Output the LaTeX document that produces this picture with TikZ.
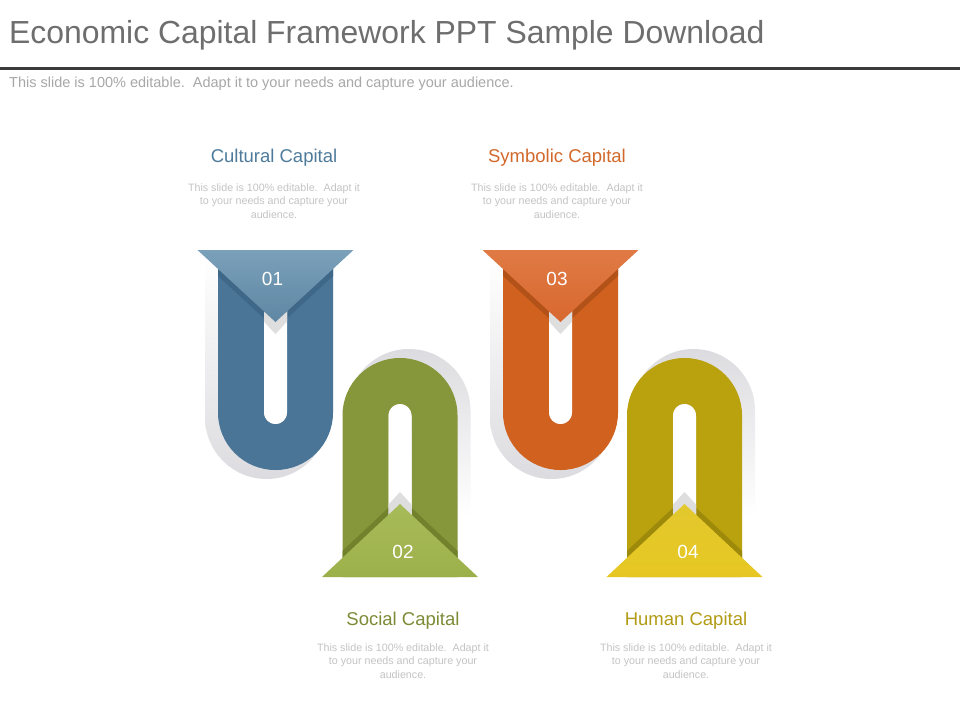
\documentclass[tikz,border=0pt]{standalone}
\usepackage{fontspec}
\setmainfont{Liberation Sans}
\definecolor{titlegray}{HTML}{6E6E6E}
\definecolor{subgray}{HTML}{A8A8A8}
\definecolor{bodygray}{HTML}{C4C4C4}
\definecolor{rulegray}{HTML}{3C3C3C}
\definecolor{shadowgray}{HTML}{DCDCE0}
\definecolor{blueband}{HTML}{4A7596}
\definecolor{bluedark}{HTML}{3F6888}
\definecolor{bluetop}{HTML}{7AA0BA}
\definecolor{bluemid}{HTML}{86A8C0}
\definecolor{bluebot}{HTML}{5F87A3}
\definecolor{bluetext}{HTML}{4F7B9B}
\definecolor{greenband}{HTML}{86963A}
\definecolor{greendark}{HTML}{72822C}
\definecolor{greentop}{HTML}{A8BB5A}
\definecolor{greenmid}{HTML}{B5C46C}
\definecolor{greenbot}{HTML}{9CB04A}
\definecolor{greentext}{HTML}{7C8B36}
\definecolor{orangeband}{HTML}{D0611F}
\definecolor{orangedark}{HTML}{B25218}
\definecolor{orangetop}{HTML}{E07A45}
\definecolor{orangemid}{HTML}{EC9566}
\definecolor{orangebot}{HTML}{D8682F}
\definecolor{orangetext}{HTML}{D2692C}
\definecolor{yellowband}{HTML}{BAA20F}
\definecolor{yellowdark}{HTML}{9E8A0A}
\definecolor{yellowtop}{HTML}{E3C82E}
\definecolor{yellowmid}{HTML}{EEDB50}
\definecolor{yellowbot}{HTML}{E6C722}
\definecolor{yellowtext}{HTML}{B29B14}
\tikzset{
  ribbon/.style={line width=46pt},
  ushadow/.style={top color=white,bottom color=shadowgray},
  nshadow/.style={top color=shadowgray,bottom color=white},
  numtext/.style={text=white,inner sep=0,font=\fontsize{19}{19}\selectfont},
  headtext/.style={inner sep=0,font=\fontsize{18.5}{21}\selectfont},
  bodytext/.style={text=bodygray,align=center,inner sep=0,font=\fontsize{10.7}{13.5}\selectfont}
}

\begin{document}
\begin{tikzpicture}[x=1pt,y=-1pt]
	\fill[white] (0,0) rectangle (960,720);
	\useasboundingbox (0,0) rectangle (960,720);
	% title and rule
	\node[anchor=west,inner sep=0,text=titlegray,font=\fontsize{31.9}{36}\selectfont] (title) at (9,35) {Economic Capital Framework PPT Sample Download};
	\draw[rulegray,line width=3pt] (0,68) -- (960,68);
	\node[anchor=west,inner sep=0,text=subgray,font=\fontsize{14.5}{16}\selectfont] (subtitle) at (9,84) {This slide is 100\% editable.\ \ Adapt it to your needs and capture your audience.};

	% 01 blue
	\begin{scope}[shift={(275.5,412.5)}]
		\shade[ushadow] (-70.5,-155) -- (-70.5,5) arc (180:0:61.5) -- (52.5,-155) -- cycle;
		\draw[ribbon,blueband] (-34.5,-161) -- (-34.5,0) arc (180:0:34.5) -- (34.5,-161);
		\begin{scope}
			\clip (-57.5,-162.5) rectangle (57.5,0);
			\fill[bluedark] (-78,-162.5) -- (-78,-155.5) -- (0,-83.5) -- (78,-155.5) -- (78,-162.5) -- cycle;
		\end{scope}
		\fill[white] (-11.5,-162.5) -- (-11.5,0) arc (180:0:11.5) -- (11.5,-162.5) -- cycle;
		\begin{scope}
			\clip (-11.5,-162.5) -- (-11.5,0) arc (180:0:11.5) -- (11.5,-162.5) -- cycle;
			\fill[black!13] (-78,-162.5) -- (0,-78.5) -- (78,-162.5) -- cycle;
		\end{scope}
		\shade[top color=bluetop,middle color=bluemid,bottom color=bluebot] (-78,-162.5) -- (78,-162.5) -- (0,-90.5) -- cycle;
		\node[numtext] (num01) at (-3,-133.5) {01};
	\end{scope}

	% 02 green
	\begin{scope}[shift={(400,415.5)}]
		\shade[nshadow] (-52.5,100) -- (-52.5,-5) arc (180:360:61.5) -- (70.5,100) -- cycle;
		\draw[ribbon,greenband] (-34.5,161) -- (-34.5,0) arc (180:360:34.5) -- (34.5,161);
		\begin{scope}
			\clip (-57.5,0) rectangle (57.5,161.5);
			\fill[greendark] (-78,161.5) -- (-78,154.5) -- (0,81.5) -- (78,154.5) -- (78,161.5) -- cycle;
		\end{scope}
		\fill[white] (-11.5,161.5) -- (-11.5,0) arc (180:360:11.5) -- (11.5,161.5) -- cycle;
		\begin{scope}
			\clip (-11.5,161.5) -- (-11.5,0) arc (180:360:11.5) -- (11.5,161.5) -- cycle;
			\fill[black!13] (-78,161.5) -- (0,76.5) -- (78,161.5) -- cycle;
		\end{scope}
		\shade[top color=greentop,middle color=greenmid,bottom color=greenbot] (-78,161.5) -- (78,161.5) -- (0,88.5) -- cycle;
		\node[numtext] (num02) at (3,136.5) {02};
	\end{scope}

	% 03 orange
	\begin{scope}[shift={(560.5,412.5)}]
		\shade[ushadow] (-70.5,-155) -- (-70.5,5) arc (180:0:61.5) -- (52.5,-155) -- cycle;
		\draw[ribbon,orangeband] (-34.5,-161) -- (-34.5,0) arc (180:0:34.5) -- (34.5,-161);
		\begin{scope}
			\clip (-57.5,-162.5) rectangle (57.5,0);
			\fill[orangedark] (-78,-162.5) -- (-78,-155.5) -- (0,-83.5) -- (78,-155.5) -- (78,-162.5) -- cycle;
		\end{scope}
		\fill[white] (-11.5,-162.5) -- (-11.5,0) arc (180:0:11.5) -- (11.5,-162.5) -- cycle;
		\begin{scope}
			\clip (-11.5,-162.5) -- (-11.5,0) arc (180:0:11.5) -- (11.5,-162.5) -- cycle;
			\fill[black!13] (-78,-162.5) -- (0,-78.5) -- (78,-162.5) -- cycle;
		\end{scope}
		\shade[top color=orangetop,middle color=orangemid,bottom color=orangebot] (-78,-162.5) -- (78,-162.5) -- (0,-90.5) -- cycle;
		\node[numtext] (num03) at (-3.5,-133.5) {03};
	\end{scope}

	% 04 yellow
	\begin{scope}[shift={(684.5,415.5)}]
		\shade[nshadow] (-52.5,100) -- (-52.5,-5) arc (180:360:61.5) -- (70.5,100) -- cycle;
		\draw[ribbon,yellowband] (-34.5,161) -- (-34.5,0) arc (180:360:34.5) -- (34.5,161);
		\begin{scope}
			\clip (-57.5,0) rectangle (57.5,161.5);
			\fill[yellowdark] (-78,161.5) -- (-78,154.5) -- (0,81.5) -- (78,154.5) -- (78,161.5) -- cycle;
		\end{scope}
		\fill[white] (-11.5,161.5) -- (-11.5,0) arc (180:360:11.5) -- (11.5,161.5) -- cycle;
		\begin{scope}
			\clip (-11.5,161.5) -- (-11.5,0) arc (180:360:11.5) -- (11.5,161.5) -- cycle;
			\fill[black!13] (-78,161.5) -- (0,76.5) -- (78,161.5) -- cycle;
		\end{scope}
		\shade[top color=yellowtop,middle color=yellowmid,bottom color=yellowbot] (-78,161.5) -- (78,161.5) -- (0,88.5) -- cycle;
		\node[numtext] (num04) at (3.5,136.5) {04};
	\end{scope}

	% labels
	\node[headtext,text=bluetext] (cultural) at (274,158) {Cultural Capital};
	\node[bodytext] (culturaltxt) at (274,201) {This slide is 100\% editable.\ \ Adapt it\\to your needs and capture your\\audience.};
	\node[headtext,text=orangetext] (symbolic) at (557,158) {Symbolic Capital};
	\node[bodytext] (symbolictxt) at (557,201) {This slide is 100\% editable.\ \ Adapt it\\to your needs and capture your\\audience.};
	\node[headtext,text=greentext] (social) at (403,621) {Social Capital};
	\node[bodytext] (socialtxt) at (403,661) {This slide is 100\% editable.\ \ Adapt it\\to your needs and capture your\\audience.};
	\node[headtext,text=yellowtext] (human) at (686,621) {Human Capital};
	\node[bodytext] (humantxt) at (686,661) {This slide is 100\% editable.\ \ Adapt it\\to your needs and capture your\\audience.};
\end{tikzpicture}
\end{document}
